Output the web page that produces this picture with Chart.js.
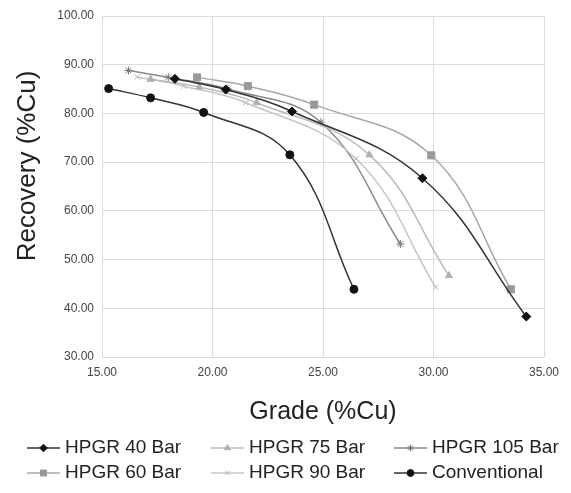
<!DOCTYPE html>
<html>
<head>
<meta charset="utf-8">
<script src="https://cdn.jsdelivr.net/npm/chart.js@4.4.1/dist/chart.umd.min.js"></script>
<style>
body { margin: 0; background: #fff; }
</style>
</head>
<body>
<canvas id="myChart" width="571" height="493"></canvas>
<script>
// grade (%Cu) and recovery (%Cu)
const grade40 = [18.3, 20.6, 23.6, 29.5, 34.2];
const rec40 = [87.1, 84.9, 80.4, 66.7, 38.3];
const grade60 = [19.3, 21.6, 24.6, 29.9, 33.5];
const rec60 = [87.4, 85.6, 81.8, 71.4, 43.9];
const grade75 = [17.2, 19.4, 22.0, 27.1, 30.7];
const rec75 = [87.0, 85.4, 82.2, 71.5, 46.7];
const grade90 = [16.6, 18.7, 21.5, 26.5, 30.1];
const rec90 = [87.5, 85.6, 82.2, 70.7, 44.3];
const grade105 = [16.2, 18.0, 20.7, 24.9, 28.5];
const rec105 = [88.8, 87.4, 85.0, 78.2, 53.2];
const gradeConv = [15.3, 17.2, 19.6, 23.5, 26.4];
const recConv = [85.1, 83.2, 80.2, 71.5, 43.9];

const xTicks = [15, 20, 25, 30, 35];
const yTicks = [30, 40, 50, 60, 70, 80, 90, 100];

const FONT = '"Liberation Sans", Arial, sans-serif';

function pts(xs, ys) {
    return xs.map(function (x, i) { return {x: x, y: ys[i]}; });
}

function series(label, xs, ys, line, marker, style, radius) {
    return {
        label: label,
        data: pts(xs, ys),
        borderColor: line,
        backgroundColor: marker,
        pointBackgroundColor: marker,
        pointBorderColor: marker,
        pointStyle: style,
        pointRadius: radius,
        pointBorderWidth: 1,
        borderWidth: 1.5,
        tension: 0.4,
        fill: false
    };
}

const datasets = [
    series('HPGR 40 Bar', grade40, rec40, '#333333', '#111111', 'rectRot', 4.5),
    series('HPGR 60 Bar', grade60, rec60, '#a8a8a8', '#999999', 'rect', 5),
    series('HPGR 75 Bar', grade75, rec75, '#bbbbbb', '#b0b0b0', 'triangle', 4),
    series('HPGR 90 Bar', grade90, rec90, '#c6c6c6', '#b8b8b8', 'crossRot', 4),
    series('HPGR 105 Bar', grade105, rec105, '#8a8a8a', '#777777', 'star', 4),
    series('Conventional', gradeConv, recConv, '#333333', '#111111', 'circle', 4)
];

// legend drawn as line + marker, 3 columns x 2 rows like the original
const legendCols = [27, 211, 394];
const legendRows = [448, 473];

const extras = {
    id: 'extras',
    afterDraw(chart) {
        const ctx = chart.ctx;
        ctx.save();
        chart.data.datasets.forEach(function (ds, i) {
            const col = Math.floor(i / 2);
            const row = i % 2;
            const x0 = legendCols[col];
            const y = legendRows[row];
            ctx.strokeStyle = ds.borderColor;
            ctx.lineWidth = 1.5;
            ctx.beginPath();
            ctx.moveTo(x0, y);
            ctx.lineTo(x0 + 33, y);
            ctx.stroke();
            ctx.fillStyle = ds.pointBackgroundColor;
            ctx.strokeStyle = ds.pointBorderColor;
            ctx.lineWidth = 1;
            Chart.helpers.drawPoint(ctx, {
                pointStyle: ds.pointStyle,
                radius: ds.pointRadius * 0.85,
                rotation: 0,
                borderWidth: 1
            }, x0 + 16.5, y);
            ctx.fillStyle = '#222';
            ctx.font = '19px ' + FONT;
            ctx.textBaseline = 'middle';
            ctx.textAlign = 'left';
            ctx.fillText(ds.label, x0 + 38, y);
        });
        // y axis title, sits a little above the middle of the plot
        ctx.translate(28, 166);
        ctx.rotate(-Math.PI / 2);
        ctx.fillStyle = '#222';
        ctx.font = '26px ' + FONT;
        ctx.textAlign = 'center';
        ctx.textBaseline = 'middle';
        ctx.fillText('Recovery (%Cu)', 0, 0);
        ctx.restore();
    }
};

const ctx = document.getElementById('myChart').getContext('2d');
const myChart = new Chart(ctx, {
    type: 'line',
    data: { datasets: datasets },
    options: {
        responsive: false,
        animation: false,
        layout: { padding: { top: 16, right: 27, left: 0, bottom: 0 } },
        plugins: {
            legend: { display: false },
            tooltip: { enabled: false }
        },
        scales: {
            x: {
                type: 'linear',
                min: 15,
                max: 35,
                afterBuildTicks: function (axis) {
                    axis.ticks = xTicks.map(function (v) { return {value: v}; });
                },
                afterFit: function (axis) { axis.height = 136; },
                grid: { color: '#dcdcdc', drawTicks: false },
                border: { display: false },
                ticks: {
                    padding: 8,
                    color: '#444',
                    font: { family: FONT, size: 12 },
                    callback: function (v) { return v.toFixed(2); }
                },
                title: {
                    display: true,
                    text: 'Grade (%Cu)',
                    color: '#222',
                    font: { family: FONT, size: 25, lineHeight: 1.2 },
                    padding: { top: 0, bottom: 66 }
                }
            },
            y: {
                type: 'linear',
                min: 30,
                max: 100,
                afterBuildTicks: function (axis) {
                    axis.ticks = yTicks.map(function (v) { return {value: v}; });
                },
                afterFit: function (axis) { axis.width = 102; },
                grid: { color: '#dcdcdc', drawTicks: false },
                border: { display: false },
                ticks: {
                    padding: 8,
                    color: '#444',
                    font: { family: FONT, size: 12 },
                    callback: function (v) { return v.toFixed(2); }
                }
            }
        }
    },
    plugins: [extras]
});
</script>
</body>
</html>
